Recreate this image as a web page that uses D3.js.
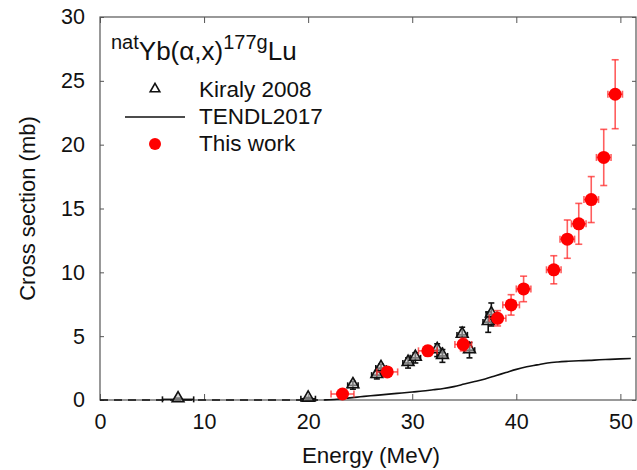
<!DOCTYPE html>
<html>
<head>
<meta charset="utf-8">
<script src="https://cdn.jsdelivr.net/npm/d3@7"></script>
<style>
  body { margin: 0; background: #fff; }
  svg { font-family: Arial, "Liberation Sans", sans-serif; }
</style>
</head>
<body>
<svg id="chart"></svg>
<script>
var width = 637,
    height = 470,
    margin = {top: 17, right: 1, bottom: 70, left: 100};

// This work: energy, dE, sigma, dSigma
var work_e  = [23.3, 27.6, 31.5, 34.9, 38.2, 39.5, 40.7, 43.6, 44.9, 46.0, 47.2, 48.4, 49.5];
var work_de = [1.1, 1.0, 0.9, 0.8, 0.8, 0.8, 0.7, 0.7, 0.7, 0.7, 0.7, 0.7, 0.7];
var work_s  = [0.47, 2.2, 3.85, 4.35, 6.4, 7.45, 8.7, 10.2, 12.6, 13.8, 15.7, 19.0, 23.95];
var work_ds = [0.3, 0.3, 0.4, 0.5, 0.6, 0.8, 1.0, 1.1, 1.5, 1.6, 1.8, 2.2, 2.7];

// Kiraly 2008
var kir_e  = [7.5, 20.0, 24.3, 26.6, 27.0, 29.6, 30.3, 32.4, 32.9, 34.8, 35.5, 37.3, 37.6];
var kir_de = [1.5, 0.7, 0.5, 0.5, 0.5, 0.5, 0.5, 0.5, 0.5, 0.5, 0.5, 0.5, 0.5];
var kir_s  = [0.05, 0.1, 1.15, 1.95, 2.5, 2.9, 3.3, 3.9, 3.45, 5.1, 3.9, 6.1, 6.7];
var kir_ds = [0.1, 0.1, 0.3, 0.3, 0.3, 0.4, 0.4, 0.5, 0.5, 0.6, 0.6, 0.8, 0.9];

// TENDL2017
var tendl_e = [21.5, 22, 23, 24, 25, 26, 27, 28, 29, 30, 31, 32, 33, 34, 35, 36, 37, 38, 39, 40,
               41, 42, 43, 44, 45, 46, 47, 48, 49, 50, 51, 52];
var tendl_s = [0, 0.02, 0.08, 0.17, 0.25, 0.33, 0.4, 0.48, 0.55, 0.63, 0.7, 0.8, 0.9, 1.05, 1.25,
               1.45, 1.65, 1.9, 2.15, 2.4, 2.6, 2.75, 2.9, 2.98, 3.03, 3.07, 3.1, 3.15, 3.18, 3.22,
               3.25, 3.28];

var x_ticks = [0, 10, 20, 30, 40, 50];
var y_ticks = [0, 5, 10, 15, 20, 25, 30];

var svg = d3.select("#chart").attr("width", width).attr("height", height);

var x = d3.scaleLinear().domain([0, 51.5]).range([margin.left, width - margin.right]);
var y = d3.scaleLinear().domain([0, 30]).range([height - margin.bottom, margin.top]);

var x0 = x.range()[0], x1 = x.range()[1], y0 = y.range()[0], y1 = y.range()[1];
var frame = "#555";

// axes (ticks inward)
svg.append("g").attr("transform", "translate(0," + y0 + ")")
  .call(d3.axisBottom(x).tickValues(x_ticks).tickSize(-6).tickPadding(14).tickFormat(d3.format("d")))
  .call(g => g.select(".domain").remove());
svg.append("g").attr("transform", "translate(0," + y1 + ")")
  .call(d3.axisTop(x).tickValues(x_ticks).tickSize(-6).tickFormat(""))
  .call(g => g.select(".domain").remove());
svg.append("g").attr("transform", "translate(" + x0 + ",0)")
  .call(d3.axisLeft(y).tickValues(y_ticks).tickSize(-4).tickPadding(15).tickFormat(d3.format("d")))
  .call(g => g.select(".domain").remove());
svg.append("g").attr("transform", "translate(" + x1 + ",0)")
  .call(d3.axisRight(y).tickValues(y_ticks).tickSize(-4).tickFormat(""))
  .call(g => g.select(".domain").remove());

svg.selectAll(".tick line").attr("stroke", frame);
svg.selectAll(".tick text").attr("font-size", 21.5).attr("fill", "#111")
  .attr("font-family", "Arial, 'Liberation Sans', sans-serif");

svg.append("rect")
  .attr("x", x0).attr("y", y1)
  .attr("width", x1 - x0).attr("height", y0 - y1)
  .attr("fill", "none").attr("stroke", frame).attr("stroke-width", 1.2);

// axis titles
svg.append("text")
  .attr("x", 371).attr("y", 463)
  .attr("text-anchor", "middle").attr("font-size", 22.4).attr("fill", "#111")
  .text("Energy (MeV)");
svg.append("text")
  .attr("transform", "translate(35," + ((y0 + y1) / 2) + ") rotate(-90)")
  .attr("text-anchor", "middle").attr("font-size", 22).attr("fill", "#111")
  .text("Cross section (mb)");

// TENDL zero segment (dashed) and curve
svg.append("line")
  .attr("x1", x(0)).attr("x2", x(tendl_e[0])).attr("y1", y(0)).attr("y2", y(0))
  .attr("stroke", "#111").attr("stroke-width", 1.5).attr("stroke-dasharray", "8,6");

var tendl = tendl_e.map((e, i) => [e, tendl_s[i]]).filter(d => d[0] <= 51.6);
svg.append("path")
  .datum(tendl)
  .attr("fill", "none").attr("stroke", "#111").attr("stroke-width", 1.6)
  .attr("d", d3.line().x(d => x(d[0])).y(d => y(d[1])).curve(d3.curveMonotoneX));

function errorBars(g, ex, dex, sy, dsy, color, cap) {
  ex.forEach((e, i) => {
    var cx = x(e), cy = y(sy[i]);
    var xa = x(e - dex[i]), xb = x(e + dex[i]);
    var ya = y(sy[i] - dsy[i]), yb = y(sy[i] + dsy[i]);
    var lines = [
      [xa, cy, xb, cy], [xa, cy - cap, xa, cy + cap], [xb, cy - cap, xb, cy + cap],
      [cx, ya, cx, yb], [cx - cap, ya, cx + cap, ya], [cx - cap, yb, cx + cap, yb]
    ];
    lines.forEach(l => {
      g.append("line").attr("x1", l[0]).attr("y1", l[1]).attr("x2", l[2]).attr("y2", l[3])
        .attr("stroke", color).attr("stroke-width", 1.6);
    });
  });
}

var tri = d3.symbol().type(d3.symbolTriangle).size(60);

// Kiraly 2008
var gk = svg.append("g");
errorBars(gk, kir_e, kir_de, kir_s, kir_ds, "#111", 3);
gk.selectAll("path")
  .data(kir_e)
  .enter().append("path")
  .attr("d", tri)
  .attr("transform", (d, i) => "translate(" + x(d) + "," + (y(kir_s[i]) - 1) + ")")
  .attr("fill", "#bbb").attr("fill-opacity", 0.6)
  .attr("stroke", "#111").attr("stroke-width", 1.6);

// This work
var gw = svg.append("g");
errorBars(gw, work_e, work_de, work_s, work_ds, "rgba(255,40,40,0.75)", 3.5);
gw.selectAll("circle")
  .data(work_e)
  .enter().append("circle")
  .attr("cx", d => x(d))
  .attr("cy", (d, i) => y(work_s[i]))
  .attr("r", 6.5)
  .attr("fill", "#ff0000");

// legend
var title = svg.append("text").attr("x", 111).attr("y", 60).attr("fill", "#111");
title.append("tspan").attr("font-size", 20).attr("dy", -11).text("nat");
title.append("tspan").attr("font-size", 26).attr("dy", 11).text("Yb(\u03b1,x)");
title.append("tspan").attr("font-size", 20).attr("dy", -11).text("177g");
title.append("tspan").attr("font-size", 26).attr("dy", 11).text("Lu");

var leg = svg.append("g");
leg.append("path").attr("d", d3.symbol().type(d3.symbolTriangle).size(40)).attr("transform", "translate(155,89)")
  .attr("fill", "#fff").attr("stroke", "#111").attr("stroke-width", 1.6);
leg.append("line").attr("x1", 125).attr("x2", 185).attr("y1", 117).attr("y2", 117)
  .attr("stroke", "#111").attr("stroke-width", 1.6);
leg.append("circle").attr("cx", 155).attr("cy", 144).attr("r", 6).attr("fill", "#ff0000");

var labels = ["Kiraly 2008", "TENDL2017", "This work"];
leg.selectAll("text")
  .data(labels)
  .enter().append("text")
  .attr("x", 199)
  .attr("y", (d, i) => 97 + i * 27)
  .attr("font-size", 22.5).attr("fill", "#111")
  .text(d => d);
</script>
</body>
</html>
